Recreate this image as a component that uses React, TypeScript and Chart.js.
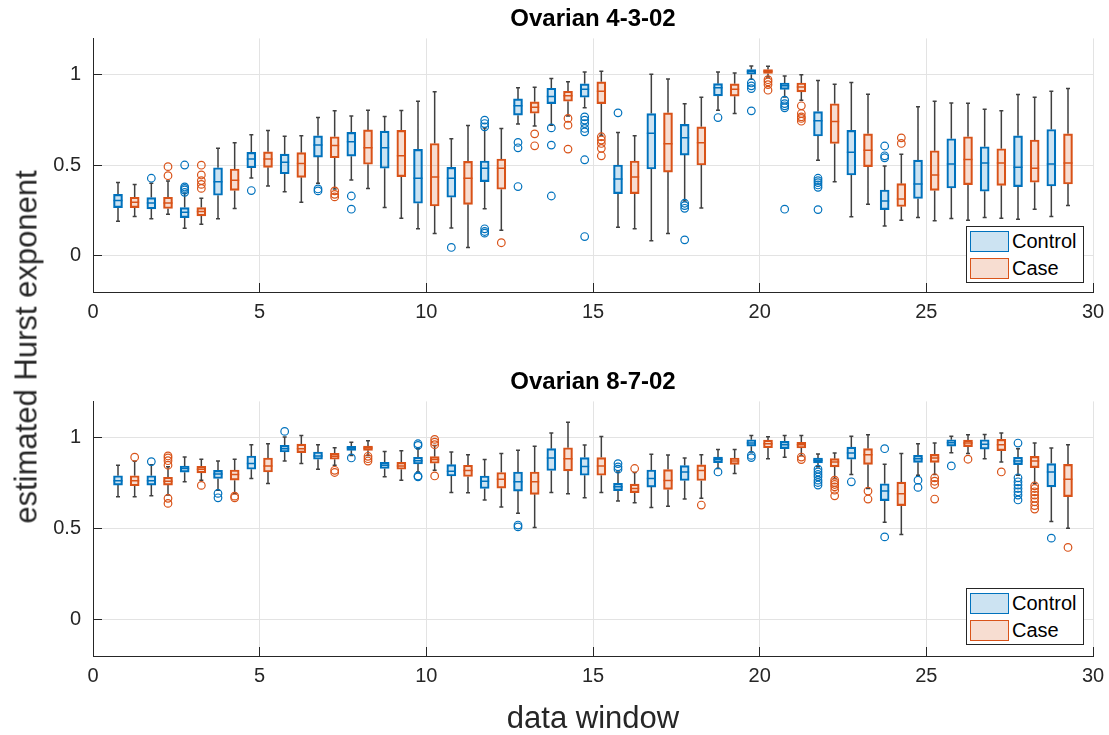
import React, { useEffect, useRef } from "react";
import { Chart, registerables } from "chart.js";

Chart.register(...registerables);

// ---------- data ----------
const WINDOWS = [1, 2, 3, 4, 5, 6, 7, 8, 9, 10, 11, 12, 13, 14, 15, 16, 17, 18, 19, 20, 21, 22, 23, 24, 25, 26, 27, 28, 29];
const GROUPS = ["Control", "Case"];
const TITLES = ["Ovarian 4-3-02", "Ovarian 8-7-02"];
const X_TICKS = [0, 5, 10, 15, 20, 25, 30];
const Y_TICKS = [0, 0.5, 1];

// [lower whisker, q1, median, q3, upper whisker]
const TOP_CONTROL = [
  [0.19, 0.266, 0.305, 0.339, 0.405],
  [0.204, 0.259, 0.292, 0.321, 0.4],
  [0.152, 0.211, 0.24, 0.266, 0.345],
  [0.204, 0.334, 0.409, 0.486, 0.593],
  [0.43, 0.486, 0.534, 0.571, 0.668],
  [0.354, 0.453, 0.516, 0.561, 0.66],
  [0.4, 0.545, 0.611, 0.662, 0.763],
  [0.418, 0.55, 0.629, 0.681, 0.772],
  [0.266, 0.483, 0.596, 0.688, 0.769],
  [0.149, 0.29, 0.428, 0.587, 0.853],
  [0.154, 0.323, 0.428, 0.488, 0.646],
  [0.259, 0.409, 0.483, 0.523, 0.706],
  [0.728, 0.776, 0.828, 0.866, 0.927],
  [0.721, 0.84, 0.879, 0.925, 0.978],
  [0.817, 0.875, 0.919, 0.949, 1.015],
  [0.158, 0.343, 0.424, 0.501, 0.681],
  [0.083, 0.479, 0.677, 0.785, 1.002],
  [0.303, 0.556, 0.651, 0.725, 0.839],
  [0.804, 0.883, 0.927, 0.95, 1.015],
  [0.974, 1.002, 1.017, 1.028, 1.048],
  [0.877, 0.919, 0.939, 0.954, 0.993],
  [0.527, 0.661, 0.745, 0.796, 0.967],
  [0.215, 0.446, 0.571, 0.692, 0.956],
  [0.165, 0.255, 0.303, 0.363, 0.495],
  [0.211, 0.316, 0.396, 0.528, 0.822],
  [0.206, 0.374, 0.506, 0.646, 0.844],
  [0.211, 0.356, 0.512, 0.602, 0.809],
  [0.202, 0.382, 0.488, 0.662, 0.89],
  [0.217, 0.385, 0.506, 0.697, 0.908],
];
const TOP_CONTROL_OUT = [
  [], [0.428], [0.501, 0.38, 0.372, 0.363, 0.35], [], [0.36], [], [0.369, 0.358], [0.33, 0.257], [], [],
  [0.046], [0.749, 0.73, 0.712, 0.149, 0.134, 0.125], [0.626, 0.596, 0.382], [0.706, 0.611, 0.33],
  [0.767, 0.749, 0.73, 0.703, 0.684, 0.53, 0.106], [0.789], [], [0.29, 0.277, 0.262, 0.088], [0.763],
  [0.954, 0.938, 0.923, 0.8], [0.859, 0.84, 0.828, 0.817, 0.257], [0.428, 0.415, 0.404, 0.391, 0.378, 0.255],
  [], [0.606, 0.552, 0.541], [], [], [], [], [],
];
const TOP_CASE = [
  [0.217, 0.266, 0.295, 0.323, 0.394],
  [0.229, 0.261, 0.292, 0.323, 0.413],
  [0.174, 0.22, 0.244, 0.266, 0.317],
  [0.261, 0.361, 0.417, 0.479, 0.624],
  [0.385, 0.488, 0.534, 0.574, 0.692],
  [0.295, 0.433, 0.51, 0.569, 0.662],
  [0.369, 0.541, 0.609, 0.657, 0.8],
  [0.372, 0.505, 0.596, 0.695, 0.804],
  [0.207, 0.437, 0.552, 0.692, 0.802],
  [0.123, 0.275, 0.435, 0.62, 0.905],
  [0.046, 0.284, 0.428, 0.521, 0.719],
  [0.141, 0.367, 0.483, 0.534, 0.703],
  [0.716, 0.787, 0.82, 0.85, 0.93],
  [0.771, 0.853, 0.883, 0.908, 0.961],
  [0.666, 0.84, 0.908, 0.96, 1.018],
  [0.149, 0.343, 0.435, 0.523, 0.662],
  [0.123, 0.462, 0.618, 0.789, 0.976],
  [0.264, 0.501, 0.624, 0.712, 0.875],
  [0.785, 0.881, 0.919, 0.949, 1.009],
  [0.987, 1.006, 1.018, 1.028, 1.046],
  [0.859, 0.905, 0.932, 0.954, 1.0],
  [0.409, 0.62, 0.741, 0.839, 0.947],
  [0.284, 0.492, 0.582, 0.673, 0.892],
  [0.196, 0.272, 0.314, 0.398, 0.56],
  [0.194, 0.361, 0.446, 0.58, 0.853],
  [0.196, 0.393, 0.532, 0.657, 0.842],
  [0.207, 0.389, 0.512, 0.591, 0.8],
  [0.257, 0.406, 0.483, 0.639, 0.875],
  [0.277, 0.396, 0.512, 0.673, 0.923],
];
const TOP_CASE_OUT = [
  [], [0.492, 0.442], [0.5, 0.446, 0.415, 0.394, 0.372], [], [], [], [0.358, 0.339, 0.325], [], [], [],
  [], [0.072], [0.673, 0.607], [0.758, 0.721, 0.589], [0.657, 0.639, 0.62, 0.593, 0.552], [], [], [], [],
  [0.972, 0.96, 0.945, 0.914], [0.828, 0.785, 0.767, 0.758, 0.743], [], [], [0.651, 0.62], [], [], [], [], [],
];

const BOT_CONTROL = [
  [0.676, 0.74, 0.763, 0.791, 0.849],
  [0.681, 0.74, 0.763, 0.791, 0.852],
  [0.758, 0.811, 0.831, 0.845, 0.894],
  [0.712, 0.776, 0.801, 0.821, 0.872],
  [0.776, 0.827, 0.858, 0.9, 0.962],
  [0.872, 0.922, 0.94, 0.958, 1.004],
  [0.827, 0.882, 0.9, 0.922, 0.962],
  [0.903, 0.931, 0.944, 0.953, 0.976],
  [0.785, 0.831, 0.849, 0.865, 0.925],
  [0.812, 0.856, 0.874, 0.893, 0.94],
  [0.699, 0.79, 0.816, 0.852, 0.922],
  [0.658, 0.721, 0.761, 0.79, 0.88],
  [0.585, 0.707, 0.758, 0.812, 0.931],
  [0.699, 0.82, 0.889, 0.94, 1.026],
  [0.67, 0.794, 0.842, 0.891, 0.96],
  [0.652, 0.709, 0.73, 0.749, 0.812],
  [0.616, 0.729, 0.776, 0.823, 0.909],
  [0.663, 0.765, 0.812, 0.847, 0.889],
  [0.831, 0.863, 0.88, 0.894, 0.936],
  [0.922, 0.954, 0.971, 0.989, 1.013],
  [0.893, 0.94, 0.962, 0.98, 1.013],
  [0.84, 0.862, 0.876, 0.889, 0.911],
  [0.798, 0.882, 0.916, 0.949, 1.009],
  [0.536, 0.654, 0.707, 0.747, 0.854],
  [0.794, 0.865, 0.885, 0.903, 0.967],
  [0.918, 0.954, 0.973, 0.989, 1.009],
  [0.885, 0.938, 0.964, 0.989, 1.018],
  [0.794, 0.852, 0.872, 0.893, 0.94],
  [0.539, 0.73, 0.812, 0.858, 0.944],
];
const BOT_CONTROL_OUT = [
  [], [0.869], [], [0.694, 0.67], [], [1.035], [], [0.889], [], [0.967, 0.958, 0.79, 0.785],
  [], [], [0.52, 0.51], [], [], [0.858, 0.84, 0.827], [], [], [0.812], [0.903, 0.891], [],
  [0.827, 0.812, 0.798, 0.785, 0.767, 0.754, 0.74], [0.758], [0.94, 0.455], [0.767, 0.727], [0.845], [],
  [0.971, 0.78, 0.758, 0.74, 0.721, 0.703, 0.685, 0.658], [0.448],
];
const BOT_CASE = [
  [0.676, 0.736, 0.763, 0.791, 0.871],
  [0.685, 0.74, 0.761, 0.783, 0.84],
  [0.767, 0.807, 0.827, 0.843, 0.882],
  [0.694, 0.767, 0.798, 0.823, 0.882],
  [0.749, 0.812, 0.845, 0.889, 0.967],
  [0.858, 0.918, 0.94, 0.965, 1.013],
  [0.849, 0.882, 0.898, 0.914, 0.945],
  [0.903, 0.931, 0.944, 0.954, 0.984],
  [0.767, 0.827, 0.845, 0.865, 0.929],
  [0.821, 0.86, 0.88, 0.896, 0.958],
  [0.698, 0.787, 0.82, 0.849, 0.907],
  [0.619, 0.723, 0.772, 0.809, 0.913],
  [0.506, 0.689, 0.758, 0.812, 0.953],
  [0.692, 0.818, 0.885, 0.945, 1.086],
  [0.699, 0.794, 0.845, 0.891, 1.007],
  [0.643, 0.698, 0.721, 0.745, 0.809],
  [0.623, 0.716, 0.765, 0.825, 0.905],
  [0.667, 0.765, 0.82, 0.851, 0.907],
  [0.803, 0.854, 0.872, 0.889, 0.936],
  [0.885, 0.945, 0.967, 0.987, 1.005],
  [0.903, 0.944, 0.962, 0.975, 1.013],
  [0.776, 0.84, 0.867, 0.885, 0.916],
  [0.721, 0.854, 0.907, 0.94, 1.016],
  [0.468, 0.627, 0.692, 0.756, 0.914],
  [0.798, 0.865, 0.889, 0.909, 0.971],
  [0.913, 0.951, 0.971, 0.987, 1.016],
  [0.867, 0.929, 0.962, 0.991, 1.026],
  [0.749, 0.836, 0.872, 0.898, 0.971],
  [0.503, 0.676, 0.772, 0.854, 0.962],
];
const BOT_CASE_OUT = [
  [0.893], [0.9, 0.889, 0.874, 0.849, 0.667, 0.639], [0.738], [0.679, 0.67], [], [], [0.821, 0.809],
  [0.898, 0.885, 0.872], [], [0.991, 0.976, 0.962, 0.79], [], [], [], [], [], [0.831], [], [0.63], [], [],
  [0.894, 0.88], [0.767, 0.754, 0.743, 0.73, 0.712, 0.681], [0.707, 0.663], [], [0.78, 0.761, 0.743, 0.663],
  [0.882], [0.812], [0.736, 0.721, 0.703, 0.685, 0.667, 0.648, 0.627, 0.608], [0.397],
];

// ---------- styles ----------
const FONT = '"Liberation Sans", Arial, Helvetica, sans-serif';
const GROUP_COLORS = ["#0072BD", "#D95319"];
const GROUP_FILLS = ["rgba(0,114,189,0.2)", "rgba(217,83,25,0.2)"];
const GROUP_OFFSETS = [-0.25, 0.25];
const WHISKER = "#404040";
const AXIS = "#262626";
const GRID = "#e3e3e3";
const TICK_LEN = -9; // inward tick marks

function panelDatasets(stats: number[][][], outliers: number[][][]) {
  const ds: any[] = [];
  stats.forEach((groupStats, g) => {
    const off = GROUP_OFFSETS[g];
    const whisk: any[] = [];
    const caps: any[] = [];
    const boxes: any[] = [];
    const meds: any[] = [];
    const outs: any[] = [];
    groupStats.forEach(([lo, q1, med, q3, hi], i) => {
      const x = WINDOWS[i] + off;
      whisk.push({ x, y: lo }, { x, y: q1 }, { x, y: null }, { x, y: q3 }, { x, y: hi }, { x, y: null });
      caps.push({ x, y: lo }, { x, y: hi });
      boxes.push({ x, y: [q1, q3] });
      meds.push({ x, y: med });
      outliers[g][i].forEach((v) => outs.push({ x, y: v }));
    });
    ds.push({
      type: "line", label: GROUPS[g] + " whiskers", data: whisk, borderColor: WHISKER, borderWidth: 1.5,
      pointRadius: 0, spanGaps: false, fill: false, order: 40,
    });
    ds.push({
      type: "scatter", label: GROUPS[g] + " caps", data: caps, pointStyle: "line", pointRadius: 2,
      pointBorderColor: WHISKER, pointBorderWidth: 1.5, order: 30,
    });
    ds.push({
      type: "bar", label: GROUPS[g], data: boxes, backgroundColor: GROUP_FILLS[g], borderColor: GROUP_COLORS[g],
      borderWidth: 1.5, borderSkipped: false, barThickness: 9, grouped: false, order: 20,
    });
    ds.push({
      type: "scatter", label: GROUPS[g] + " median", data: meds, pointStyle: "line", pointRadius: 4.5,
      pointBorderColor: GROUP_COLORS[g], pointBorderWidth: 1.5, order: 10,
    });
    ds.push({
      type: "scatter", label: GROUPS[g] + " outliers", data: outs, pointStyle: "circle", pointRadius: 3.8,
      pointBorderColor: GROUP_COLORS[g], pointBackgroundColor: "rgba(0,0,0,0)", pointBorderWidth: 1.2, order: 0,
    });
  });
  return ds;
}

function makeConfig(title: string, stats: number[][][], outliers: number[][][], xHeight: number, xTitle: string | null): any {
  return {
    type: "bar",
    data: { datasets: panelDatasets(stats, outliers) },
    options: {
      animation: false,
      responsive: false,
      events: [],
      layout: { padding: { left: 0, right: 16, top: 0, bottom: 0 } },
      plugins: {
        legend: { display: false },
        tooltip: { enabled: false },
        title: {
          display: true, text: title, color: "#000", fullSize: false,
          font: { family: FONT, size: 24, weight: "bold", lineHeight: 1.2 },
          padding: { top: 4.8, bottom: 4.8 },
        },
      },
      scales: {
        x: {
          type: "linear", min: 0, max: 30, offset: false,
          afterBuildTicks: (s: any) => { s.ticks = X_TICKS.map((v) => ({ value: v })); },
          afterFit: (s: any) => { s.height = xHeight; s.paddingLeft = 0; s.paddingRight = 0; },
          grid: { color: GRID, offset: false, drawTicks: true, tickLength: TICK_LEN, tickColor: AXIS },
          border: { display: true, color: AXIS, width: 1 },
          ticks: { font: { family: FONT, size: 20 }, color: AXIS, padding: 8 - TICK_LEN, maxRotation: 0, autoSkip: false, callback: (v: any) => String(v) },
          title: xTitle
            ? { display: true, text: xTitle, color: AXIS, font: { family: FONT, size: 31, lineHeight: 1 }, padding: { top: 0, bottom: 0 } }
            : { display: false },
        },
        y: {
          type: "linear", min: -0.2, max: 1.2,
          afterBuildTicks: (s: any) => { s.ticks = Y_TICKS.map((v) => ({ value: v })); },
          afterFit: (s: any) => { s.width = 93; s.paddingTop = 0; s.paddingBottom = 0; },
          grid: { color: GRID, drawTicks: true, tickLength: TICK_LEN, tickColor: AXIS },
          border: { display: true, color: AXIS, width: 1 },
          ticks: { font: { family: FONT, size: 20 }, color: AXIS, padding: 12 - TICK_LEN, callback: (v: any) => String(v) },
        },
      },
    },
  };
}

function Legend({ top }: { top: number }) {
  return (
    <div style={{
      position: "absolute", left: 966, top, width: 118, height: 57, boxSizing: "border-box",
      border: "1px solid " + AXIS, background: "#fff",
    }}>
      {GROUPS.map((g, i) => (
        <div key={g} style={{ position: "absolute", left: 3, top: 4 + i * 26.5, height: 21 }}>
          <div style={{
            position: "absolute", left: 0, top: 0, width: 39, height: 21, boxSizing: "border-box",
            background: GROUP_FILLS[i], border: "1.5px solid " + GROUP_COLORS[i],
          }} />
          <span style={{
            position: "absolute", left: 42, top: 0, lineHeight: "21px", fontSize: 20, fontFamily: FONT,
            color: "#000", whiteSpace: "nowrap",
          }}>{g}</span>
        </div>
      ))}
    </div>
  );
}

export default function App() {
  const topRef = useRef<HTMLCanvasElement | null>(null);
  const botRef = useRef<HTMLCanvasElement | null>(null);

  useEffect(() => {
    const c1 = new Chart(topRef.current as HTMLCanvasElement,
      makeConfig(TITLES[0], [TOP_CONTROL, TOP_CASE], [TOP_CONTROL_OUT, TOP_CASE_OUT], 38, null));
    const c2 = new Chart(botRef.current as HTMLCanvasElement,
      makeConfig(TITLES[1], [BOT_CONTROL, BOT_CASE], [BOT_CONTROL_OUT, BOT_CASE_OUT], 79, "data window"));
    return () => { c1.destroy(); c2.destroy(); };
  }, []);

  return (
    <div style={{ position: "fixed", left: 0, top: 0, width: 1109, height: 735, background: "#fff", fontFamily: FONT, overflow: "hidden" }}>
      <canvas ref={topRef} width={1109} height={330} style={{ position: "absolute", left: 0, top: 0, width: 1109, height: 330 }} />
      <canvas ref={botRef} width={1109} height={372} style={{ position: "absolute", left: 0, top: 363, width: 1109, height: 372 }} />
      <div style={{
        position: "absolute", left: 26, top: 347, transform: "translate(-50%, -50%) rotate(-90deg)",
        whiteSpace: "nowrap", fontSize: 31, lineHeight: 1, color: AXIS, fontFamily: FONT,
      }}>estimated Hurst exponent</div>
      <Legend top={226} />
      <Legend top={588} />
    </div>
  );
}
